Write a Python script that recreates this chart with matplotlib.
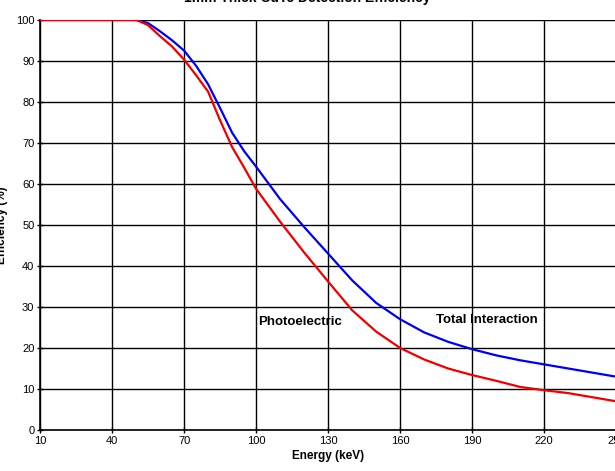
import matplotlib
matplotlib.use('Agg')
import matplotlib.pyplot as plt

plt.rcParams['font.family'] = ['Liberation Sans', 'DejaVu Sans']

energy = [10, 20, 30, 40, 50, 55, 60, 65, 70, 75, 80, 85, 90, 95, 100,
          110, 120, 130, 140, 150, 160, 170, 180, 190, 200, 210, 220, 230, 240, 250]
total = [100, 100, 100, 100, 100, 99.2, 97.2, 95, 92.5, 88.8, 84.3, 78.5, 72.5, 68, 64.2,
         56.3, 49.5, 43, 36.5, 31, 27, 23.8, 21.5, 19.7, 18.2, 17, 16, 15, 14, 13]
photo = [100, 100, 100, 100, 100, 98.7, 96, 93.5, 90.3, 86.5, 82.5, 75.5, 69, 64, 58.8,
         50.8, 43.3, 36.2, 29.2, 24, 20, 17.2, 15, 13.4, 12, 10.5, 9.7, 9, 8, 7]
xticks = [10, 40, 70, 100, 130, 160, 190, 220, 250]
yticks = list(range(0, 101, 10))

fig = plt.figure(figsize=(6.15, 4.71), dpi=100)
ax = fig.add_axes([0.065, 0.087, 0.937, 0.871])

ax.plot(energy, total, color='#0000ee', lw=1.6, zorder=3)
ax.plot(energy, photo, color='#ee0000', lw=1.6, zorder=4)

ax.set_xlim(10, 250)
ax.set_ylim(0, 100)
ax.set_xticks(xticks)
ax.set_yticks(yticks)
ax.grid(True, color='black', lw=1.0)
for s in ['top', 'right']:
    ax.spines[s].set_visible(False)
ax.spines['left'].set_linewidth(1.2)
ax.spines['bottom'].set_linewidth(1.2)
ax.tick_params(labelsize=8, length=4, width=1, direction='inout', pad=2)

ax.set_xlabel('Energy (keV)', fontsize=8.5, fontweight='bold', labelpad=3)
ax.set_ylabel('Efficiency (%)', fontsize=8.5, fontweight='bold', labelpad=6)

ax.text(101, 26.3, 'Photoelectric', fontsize=9.5, fontweight='bold', va='center')
ax.text(175, 26.8, 'Total Interaction', fontsize=9.5, fontweight='bold', va='center')

fig.text(0.5, 1.004, '1mm Thick CdTe Detection Efficiency', ha='center', va='center',
         fontsize=10, fontweight='bold')

fig.savefig('out.png', dpi=100)
